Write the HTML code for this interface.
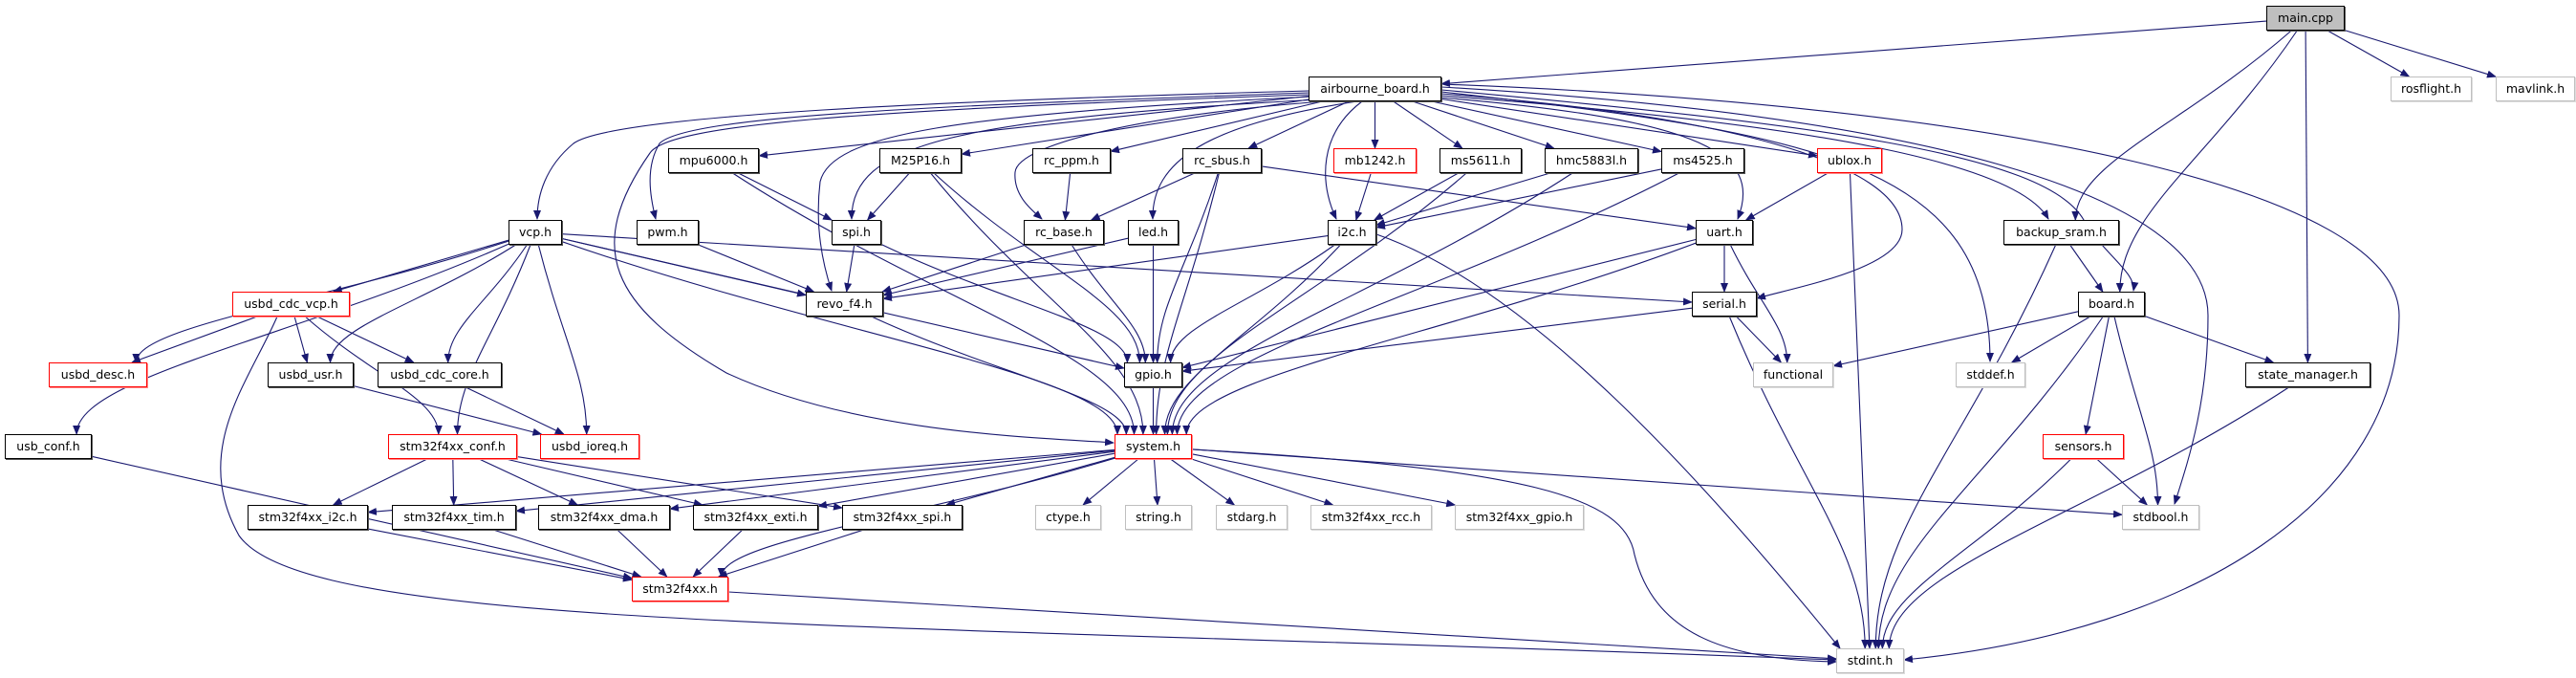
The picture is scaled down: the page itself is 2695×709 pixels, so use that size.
<!DOCTYPE html>
<html><head><meta charset="utf-8">
<style>
html,body{margin:0;padding:0;background:#fff;}
#c{position:relative;width:2695px;height:709px;overflow:hidden;}
svg{position:absolute;left:0;top:0;}
.n{position:absolute;box-sizing:border-box;height:26px;border:1px solid #000;background:#fff;font:12.5px "DejaVu Sans",sans-serif;color:#000;text-align:center;line-height:24px;white-space:nowrap;box-shadow:1px 1px 0 #555;}
.r{border-color:#f00;box-shadow:1px 1px 0 #f88;}
.g{border-color:#bfbfbf;box-shadow:1px 1px 0 #ddd;}
.m{background:#bfbfbf;}
</style></head><body><div id="c">
<svg id="s" width="2695" height="709"><defs><marker id="a" markerWidth="10" markerHeight="8" refX="9" refY="4" orient="auto" markerUnits="userSpaceOnUse"><path d="M0,0 L10,4 L0,8 z" fill="#191970"/></marker></defs></svg>
<div class="n m" id="main" style="left:2371px;top:6px;width:82px">main.cpp</div>
<div class="n" id="ab" style="left:1369px;top:80px;width:139px">airbourne_board.h</div>
<div class="n g" id="ros" style="left:2501px;top:80px;width:85px">rosflight.h</div>
<div class="n g" id="mav" style="left:2611px;top:80px;width:83px">mavlink.h</div>
<div class="n" id="mpu" style="left:699px;top:155px;width:95px">mpu6000.h</div>
<div class="n" id="m25" style="left:920px;top:155px;width:86px">M25P16.h</div>
<div class="n" id="ppm" style="left:1080px;top:155px;width:82px">rc_ppm.h</div>
<div class="n" id="sbus" style="left:1237px;top:155px;width:83px">rc_sbus.h</div>
<div class="n r" id="mb" style="left:1395px;top:155px;width:87px">mb1242.h</div>
<div class="n" id="ms56" style="left:1506px;top:155px;width:86px">ms5611.h</div>
<div class="n" id="hmc" style="left:1616px;top:155px;width:98px">hmc5883l.h</div>
<div class="n" id="ms45" style="left:1738px;top:155px;width:87px">ms4525.h</div>
<div class="n r" id="ublox" style="left:1901px;top:155px;width:68px">ublox.h</div>
<div class="n" id="vcp" style="left:532px;top:230px;width:56px">vcp.h</div>
<div class="n" id="pwm" style="left:666px;top:230px;width:65px">pwm.h</div>
<div class="n" id="spi" style="left:870px;top:230px;width:52px">spi.h</div>
<div class="n" id="rcb" style="left:1071px;top:230px;width:84px">rc_base.h</div>
<div class="n" id="led" style="left:1180px;top:230px;width:53px">led.h</div>
<div class="n" id="i2c" style="left:1389px;top:230px;width:51px">i2c.h</div>
<div class="n" id="uart" style="left:1774px;top:230px;width:60px">uart.h</div>
<div class="n" id="bks" style="left:2096px;top:230px;width:121px">backup_sram.h</div>
<div class="n r" id="ucv" style="left:243px;top:305px;width:123px">usbd_cdc_vcp.h</div>
<div class="n" id="revo" style="left:843px;top:305px;width:81px">revo_f4.h</div>
<div class="n" id="ser" style="left:1770px;top:305px;width:68px">serial.h</div>
<div class="n" id="board" style="left:2174px;top:305px;width:70px">board.h</div>
<div class="n r" id="udesc" style="left:51px;top:379px;width:103px">usbd_desc.h</div>
<div class="n" id="uusr" style="left:280px;top:379px;width:90px">usbd_usr.h</div>
<div class="n" id="ucore" style="left:395px;top:379px;width:130px">usbd_cdc_core.h</div>
<div class="n" id="gpio" style="left:1176px;top:379px;width:61px">gpio.h</div>
<div class="n g" id="func" style="left:1834px;top:379px;width:84px">functional</div>
<div class="n g" id="stddef" style="left:2046px;top:379px;width:73px">stddef.h</div>
<div class="n" id="sm" style="left:2349px;top:379px;width:131px">state_manager.h</div>
<div class="n" id="usbc" style="left:5px;top:454px;width:91px">usb_conf.h</div>
<div class="n r" id="conf" style="left:406px;top:454px;width:135px">stm32f4xx_conf.h</div>
<div class="n r" id="ioreq" style="left:565px;top:454px;width:104px">usbd_ioreq.h</div>
<div class="n r" id="sys" style="left:1166px;top:454px;width:81px">system.h</div>
<div class="n r" id="sens" style="left:2137px;top:454px;width:85px">sensors.h</div>
<div class="n" id="si2c" style="left:259px;top:528px;width:126px">stm32f4xx_i2c.h</div>
<div class="n" id="stim" style="left:410px;top:528px;width:130px">stm32f4xx_tim.h</div>
<div class="n" id="sdma" style="left:563px;top:528px;width:138px">stm32f4xx_dma.h</div>
<div class="n" id="sexti" style="left:725px;top:528px;width:131px">stm32f4xx_exti.h</div>
<div class="n" id="sspi" style="left:881px;top:528px;width:126px">stm32f4xx_spi.h</div>
<div class="n g" id="ctype" style="left:1083px;top:528px;width:69px">ctype.h</div>
<div class="n g" id="str" style="left:1177px;top:528px;width:70px">string.h</div>
<div class="n g" id="starg" style="left:1272px;top:528px;width:75px">stdarg.h</div>
<div class="n g" id="rcc" style="left:1371px;top:528px;width:127px">stm32f4xx_rcc.h</div>
<div class="n g" id="sgpio" style="left:1522px;top:528px;width:135px">stm32f4xx_gpio.h</div>
<div class="n g" id="sbool" style="left:2220px;top:528px;width:81px">stdbool.h</div>
<div class="n r" id="stm" style="left:661px;top:603px;width:101px">stm32f4xx.h</div>
<div class="n g" id="sint" style="left:1921px;top:678px;width:71px">stdint.h</div>
</div>
<script>
var E=[
["main","ab"],["main","ros"],["main","mav"],["main","bks"],["main","board"],["main","sm"],
["ab","vcp"],["ab","pwm"],["ab","mpu"],["ab","spi"],["ab","m25"],["ab","ppm"],["ab","rcb"],["ab","revo"],["ab","sys"],["ab","led"],["ab","sbus"],["ab","i2c"],["ab","mb"],["ab","ms56"],["ab","hmc"],["ab","ms45"],["ab","ublox"],["ab","uart"],["ab","ser"],["ab","stddef"],["ab","bks"],["ab","board"],["ab","sbool"],["ab","sint"],
["mpu","spi"],["mpu","sys"],["m25","spi"],["m25","gpio"],["m25","sys"],["ppm","rcb"],
["sbus","rcb"],["sbus","gpio"],["sbus","sys"],["sbus","uart"],["mb","i2c"],
["ms56","i2c"],["ms56","sys"],["hmc","i2c"],["hmc","sys"],["ms45","i2c"],["ms45","sys"],
["ublox","uart"],["ublox","sint"],
["vcp","usbc"],["vcp","udesc"],["vcp","ucv"],["vcp","conf"],["vcp","uusr"],["vcp","ucore"],["vcp","ioreq"],["vcp","revo"],["vcp","gpio"],["vcp","ser"],["vcp","sys"],
["pwm","revo"],["spi","revo"],["spi","gpio"],["rcb","revo"],["rcb","gpio"],["led","revo"],["led","gpio"],
["i2c","revo"],["i2c","gpio"],["i2c","sys"],["i2c","sint"],
["uart","ser"],["uart","gpio"],["uart","sys"],["uart","func"],
["bks","board"],["bks","sint"],
["board","func"],["board","stddef"],["board","sint"],["board","sbool"],["board","sens"],["board","sm"],
["ucv","udesc"],["ucv","uusr"],["ucv","ucore"],["ucv","conf"],["ucv","sint"],
["revo","sys"],["ser","gpio"],["ser","func"],["ser","sint"],["gpio","sys"],
["uusr","ioreq"],["ucore","ioreq"],["usbc","stm"],
["conf","si2c"],["conf","stim"],["conf","sdma"],["conf","sexti"],["conf","sspi"],
["sys","si2c"],["sys","stim"],["sys","sdma"],["sys","sexti"],["sys","sspi"],["sys","ctype"],["sys","str"],["sys","starg"],["sys","rcc"],["sys","sgpio"],["sys","sbool"],["sys","sint"],["sys","stm"],
["si2c","stm"],["stim","stm"],["sdma","stm"],["sexti","stm"],["sspi","stm"],
["stm","sint"],["sens","sbool"],["sens","sint"],["sm","sint"]];
var O={
"ab>vcp":"M1369,95 C1000,105 640,120 600,150 C570,175 562,205 562,229",
"ab>pwm":"M1369,97 C1000,110 720,120 690,150 C675,175 680,205 686,229",
"ab>sys":"M1369,99 C900,115 700,130 680,160 C610,260 640,320 760,390 C900,455 1100,458 1165,463",
"ab>revo":"M1372,101 C1000,120 870,140 858,190 C852,240 862,280 870,304",
"ab>spi":"M1380,104 C1000,125 890,150 891,229",
"ab>rcb":"M1385,106 C1200,120 1065,150 1062,180 C1060,205 1080,220 1090,229",
"ab>led":"M1420,106 C1260,130 1205,170 1206,229",
"ab>i2c":"M1425,106 C1380,140 1380,190 1398,229",
"ucv>sint":"M290,331 C260,400 200,470 250,560 C320,660 900,650 1921,690",
"ab>sint":"M1508,88 C2100,110 2510,200 2510,330 C2510,520 2300,660 1992,690",
"ab>sbool":"M1508,91 C2000,120 2310,200 2310,330 C2310,420 2290,480 2275,527",
"ab>board":"M1508,94 C1900,130 2140,160 2180,230 C2200,265 2235,285 2232,304",
"ab>stddef":"M1508,96 C1900,140 2082,170 2082,378",
"ab>ser":"M1508,98 C1800,120 1990,170 1990,240 C1990,280 1880,300 1838,312",
"ab>bks":"M1508,100 C1900,130 2110,170 2143,229",
"ab>uart":"M1508,102 C1780,125 1845,160 1818,229",
"sys>sint":"M1247,470 C1600,490 1700,520 1710,580 C1730,660 1800,690 1921,692",
"i2c>sint":"M1440,245 C1600,300 1780,500 1925,678"
};
function box(id){var e=document.getElementById(id);return {x:e.offsetLeft,y:e.offsetTop,w:e.offsetWidth,h:e.offsetHeight};}
function clip(b,dx,dy){var cx=b.x+b.w/2,cy=b.y+b.h/2;var tx=dx?Math.abs((b.w/2)/dx):1e9,ty=dy?Math.abs((b.h/2)/dy):1e9;var t=Math.min(tx,ty);return {p:[cx+dx*t,cy+dy*t],top:ty<=tx};}
var s=document.getElementById('s'),h='';
function f(v){return v.toFixed(1);}
E.forEach(function(p){var d=O[p[0]+'>'+p[1]];
if(!d){var a=box(p[0]),b=box(p[1]);var ax=a.x+a.w/2,ay=a.y+a.h/2,bx=b.x+b.w/2,by=b.y+b.h/2;var dx=bx-ax,dy=by-ay;var A=clip(a,dx,dy),B=clip(b,-dx,-dy);var P=A.p,Q=B.p;
var vy=Q[1]-P[1];
if(B.top&&vy>60&&Math.abs(Q[0]-P[0])>40){var c1x=P[0]+(Q[0]-P[0])*0.5,c1y=P[1]+vy*0.5;var c2y=Q[1]-vy*0.3;d='M'+f(P[0])+','+f(P[1])+' C'+f(c1x)+','+f(c1y)+' '+f(Q[0])+','+f(c2y)+' '+f(Q[0])+','+f(Q[1]);}
else d='M'+f(P[0])+','+f(P[1])+' L'+f(Q[0])+','+f(Q[1]);}
h+='<path d="'+d+'" stroke="#191970" stroke-width="1.1" fill="none" marker-end="url(#a)"/>';});
s.insertAdjacentHTML('beforeend',h);
</script>
</body></html>
